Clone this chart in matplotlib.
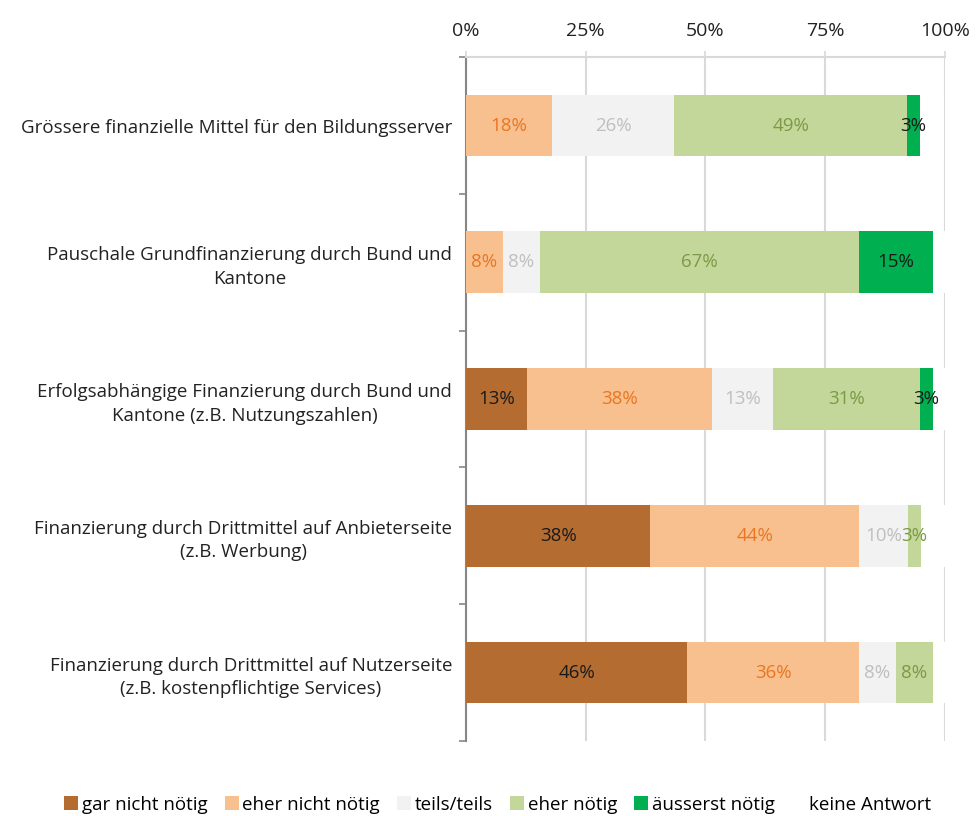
import numpy as np
import matplotlib.pyplot as plt
from matplotlib import rcParams

rcParams.update({
    "font.family": ["Open Sans", "DejaVu Sans"],
    "font.size": 13.5,
})

# Kategorien (von oben nach unten)
categories = [
    "Grössere finanzielle Mittel für den Bildungsserver",
    "Pauschale Grundfinanzierung durch Bund und\nKantone",
    "Erfolgsabhängige Finanzierung durch Bund und\nKantone (z.B. Nutzungszahlen)",
    "Finanzierung durch Drittmittel auf Anbieterseite\n(z.B. Werbung)",
    "Finanzierung durch Drittmittel auf Nutzerseite\n(z.B. kostenpflichtige Services)",
]
series_names = ["gar nicht nötig", "eher nicht nötig", "teils/teils",
                "eher nötig", "äusserst nötig", "keine Antwort"]

# Anteile in Prozent
gar_nicht = [0.0, 0.0, 12.8, 38.5, 46.2]
eher_nicht = [17.9, 7.7, 38.5, 43.6, 35.9]
teils = [25.6, 7.7, 12.8, 10.3, 7.7]
eher = [48.7, 66.7, 30.8, 2.6, 7.7]
aeusserst = [2.6, 15.4, 2.6, 0.0, 0.0]
keine = [5.1, 2.6, 2.6, 5.1, 2.6]

colors = ["#B46C31", "#F9C08F", "#F2F2F2", "#C4D79B", "#00B050", "#FFFFFF"]
label_colors = ["#1A1A1A", "#E87722", "#BFBFBF", "#7A9A44", "#1A1A1A", None]

data = [gar_nicht, eher_nicht, teils, eher, aeusserst, keine]

fig = plt.figure(figsize=(9.76, 8.16), dpi=100)
ax = fig.add_axes([0.4775, 0.092, 0.4905, 0.838])

y = np.arange(len(categories))
left = np.zeros(len(categories))
handles = []
for vals, name, col, lcol in zip(data, series_names, colors, label_colors):
    vals = np.array(vals)
    bars = ax.barh(y, vals, left=left, height=0.45, color=col, label=name,
                   zorder=3)
    handles.append(bars)
    if lcol is not None:
        for yi, (l, v) in enumerate(zip(left, vals)):
            if v > 0:
                ax.text(l + v / 2, yi, f"{v:.0f}%", ha="center", va="center",
                        color=lcol, fontsize=13.5, zorder=4)
    left += vals

ax.set_xlim(0, 100)
ax.set_ylim(len(categories) - 0.5, -0.5)
ax.set_xticks([0, 25, 50, 75, 100])
ax.set_xticklabels(["0%", "25%", "50%", "75%", "100%"])
ax.xaxis.tick_top()
ax.tick_params(axis="x", colors="#D9D9D9", labelcolor="#222222", length=4,
               width=1.2, labelsize=14, pad=8)
ax.grid(axis="x", color="#D9D9D9", linewidth=1.5, zorder=0)

ax.set_yticks(np.arange(-0.5, len(categories)), minor=True)
ax.set_yticks(y)
ax.set_yticklabels(categories, multialignment="center", linespacing=1.4)
ax.tick_params(axis="y", which="major", length=0, pad=10, labelcolor="#222222")
ax.tick_params(axis="y", which="minor", length=5, color="#868686", width=1.2)

for s in ["right", "bottom"]:
    ax.spines[s].set_visible(False)
ax.spines["top"].set_color("#D9D9D9")
ax.spines["top"].set_linewidth(1.5)
ax.spines["left"].set_color("#868686")
ax.spines["left"].set_linewidth(1.5)

fig.legend(handles=handles, labels=series_names, loc="lower center",
           bbox_to_anchor=(0.51, -0.018), ncol=6, frameon=False,
           handlelength=0.75, handleheight=0.75, handletextpad=0.2,
           columnspacing=0.9, fontsize=13.5)

fig.savefig("out.png", dpi=100)
